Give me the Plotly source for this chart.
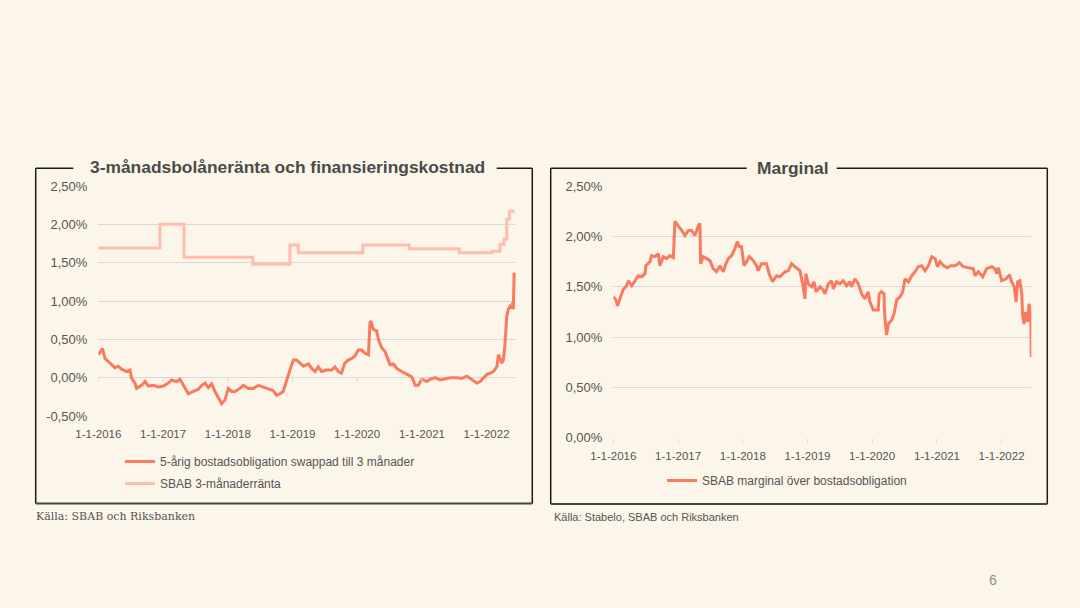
import plotly.graph_objects as go

# ---------------- data ----------------
bond_dates = [
    "2016-01-01", "2016-01-20", "2016-01-25", "2016-02-08", "2016-02-26", "2016-03-16", "2016-04-04",
    "2016-04-22", "2016-05-11", "2016-06-09", "2016-06-28", "2016-07-07", "2016-07-26", "2016-08-04",
    "2016-09-02", "2016-09-21", "2016-10-10", "2016-11-07", "2016-12-05", "2017-01-02", "2017-01-30",
    "2017-02-18", "2017-03-18", "2017-04-06", "2017-04-25", "2017-05-23", "2017-06-21", "2017-07-19",
    "2017-08-07", "2017-08-26", "2017-09-13", "2017-10-02", "2017-10-21", "2017-11-08", "2017-11-27",
    "2017-12-16", "2018-01-04", "2018-01-23", "2018-02-11", "2018-03-11", "2018-03-30", "2018-04-27",
    "2018-05-26", "2018-06-23", "2018-07-21", "2018-08-18", "2018-09-15", "2018-10-04", "2018-10-23",
    "2018-11-10", "2018-11-29", "2018-12-18", "2019-01-06", "2019-01-25", "2019-02-13", "2019-03-04",
    "2019-04-01", "2019-04-20", "2019-05-09", "2019-05-27", "2019-06-15", "2019-07-13", "2019-08-10",
    "2019-08-29", "2019-09-17", "2019-10-05", "2019-10-24", "2019-11-12", "2019-12-01", "2019-12-19",
    "2020-01-08", "2020-01-27", "2020-02-15", "2020-03-05", "2020-03-14", "2020-03-18", "2020-04-02",
    "2020-04-21", "2020-04-30", "2020-05-19", "2020-06-07", "2020-06-26", "2020-07-05", "2020-07-24",
    "2020-08-12", "2020-09-09", "2020-10-07", "2020-11-05", "2020-11-24", "2020-12-12", "2021-01-01",
    "2021-01-29", "2021-02-17", "2021-03-17", "2021-04-14", "2021-05-12", "2021-06-10", "2021-07-17",
    "2021-08-15", "2021-09-12", "2021-10-10", "2021-11-07", "2021-11-26", "2021-12-14", "2022-01-02",
    "2022-01-21", "2022-02-09", "2022-02-28", "2022-03-09", "2022-03-28", "2022-04-06", "2022-04-15",
    "2022-04-25", "2022-05-04", "2022-05-13", "2022-05-23", "2022-05-28", "2022-06-01", "2022-06-06",
]
bond_values = [
    0.30, 0.36, 0.38, 0.25, 0.21, 0.17, 0.13,
    0.15, 0.11, 0.08, 0.10, -0.01, -0.07, -0.14,
    -0.10, -0.05, -0.11, -0.10, -0.12, -0.11, -0.07,
    -0.03, -0.05, -0.02, -0.10, -0.21, -0.18, -0.15,
    -0.10, -0.07, -0.13, -0.08, -0.18, -0.25, -0.34,
    -0.29, -0.14, -0.18, -0.18, -0.14, -0.10, -0.14,
    -0.14, -0.10, -0.12, -0.14, -0.17, -0.23, -0.21,
    -0.18, -0.03, 0.10, 0.23, 0.23, 0.19, 0.15,
    0.18, 0.12, 0.08, 0.14, 0.08, 0.10, 0.10,
    0.14, 0.08, 0.06, 0.19, 0.23, 0.25, 0.28,
    0.36, 0.36, 0.32, 0.30, 0.71, 0.74, 0.63,
    0.61, 0.50, 0.39, 0.34, 0.23, 0.17, 0.18,
    0.12, 0.08, 0.04, 0.01, -0.10, -0.10, -0.02,
    -0.05, -0.02, 0.00, -0.03, -0.02, 0.00, 0.00,
    -0.01, 0.02, -0.03, -0.07, -0.05, 0.00, 0.04,
    0.06, 0.08, 0.14, 0.30, 0.19, 0.23, 0.43,
    0.80, 0.89, 0.93, 0.91, 0.98, 0.89, 1.37,
]

sbab_dates = [
    "2016-01-01", "2016-12-14", "2017-04-29", "2018-05-22", "2018-12-18", "2019-02-03",
    "2020-02-02", "2020-10-21", "2021-07-31", "2022-01-30", "2022-03-18", "2022-04-10",
    "2022-04-25", "2022-05-10", "2022-06-08",
]
sbab_values = [
    1.69, 2.00, 1.57, 1.48, 1.73, 1.63,
    1.73, 1.68, 1.63, 1.65, 1.74, 1.81,
    2.07, 2.17, 2.17,
]

margin_dates = [
    "2016-01-01", "2016-01-16", "2016-01-25", "2016-02-07", "2016-02-25", "2016-03-16", "2016-03-26",
    "2016-04-14", "2016-05-02", "2016-05-21", "2016-06-09", "2016-06-28", "2016-07-03", "2016-07-26",
    "2016-08-04", "2016-08-23", "2016-09-11", "2016-09-20", "2016-10-09", "2016-10-28", "2016-11-16",
    "2016-12-05", "2016-12-14", "2017-01-02", "2017-01-21", "2017-02-09", "2017-02-28", "2017-03-18",
    "2017-04-06", "2017-04-25", "2017-05-04", "2017-05-08", "2017-05-23", "2017-06-11", "2017-06-30",
    "2017-07-18", "2017-08-06", "2017-08-25", "2017-09-13", "2017-09-28", "2017-10-11", "2017-10-30",
    "2017-11-18", "2017-12-01", "2017-12-12", "2017-12-25", "2018-01-08", "2018-01-23", "2018-02-07",
    "2018-03-01", "2018-03-20", "2018-03-29", "2018-04-17", "2018-05-15", "2018-05-30", "2018-06-18",
    "2018-07-11", "2018-07-30", "2018-08-27", "2018-09-15", "2018-10-04", "2018-10-22", "2018-11-20",
    "2018-12-08", "2018-12-18", "2018-12-23", "2019-01-06", "2019-01-25", "2019-02-07", "2019-02-18",
    "2019-03-13", "2019-03-31", "2019-04-10", "2019-04-29", "2019-05-17", "2019-05-27", "2019-06-15",
    "2019-07-03", "2019-07-22", "2019-08-10", "2019-08-29", "2019-09-07", "2019-09-26", "2019-10-15",
    "2019-11-03", "2019-11-22", "2019-12-10", "2019-12-20", "2020-01-08", "2020-01-27", "2020-02-05",
    "2020-02-10", "2020-02-23", "2020-03-08", "2020-03-13", "2020-03-23", "2020-04-02", "2020-04-21",
    "2020-05-04", "2020-05-19", "2020-06-07", "2020-06-22", "2020-07-05", "2020-07-24", "2020-08-12",
    "2020-08-31", "2020-09-18", "2020-10-07", "2020-10-26", "2020-11-14", "2020-12-03", "2020-12-22",
    "2021-01-04", "2021-01-19", "2021-02-07", "2021-03-01", "2021-03-20", "2021-04-14", "2021-05-08",
    "2021-05-30", "2021-06-28", "2021-07-26", "2021-08-04", "2021-08-23", "2021-09-17", "2021-10-09",
    "2021-11-07", "2021-11-25", "2021-12-05", "2021-12-14", "2022-01-02", "2022-01-27", "2022-02-14",
    "2022-02-27", "2022-03-13", "2022-03-24", "2022-04-02", "2022-04-15", "2022-04-25", "2022-04-30",
    "2022-05-08", "2022-05-17", "2022-05-29", "2022-06-05", "2022-06-15", "2022-06-17", "2022-06-18",
]
margin_values = [
    1.40, 1.37, 1.31, 1.38, 1.47, 1.51, 1.56,
    1.51, 1.56, 1.61, 1.60, 1.63, 1.71, 1.75,
    1.81, 1.80, 1.83, 1.71, 1.80, 1.78, 1.81,
    1.79, 2.15, 2.11, 2.06, 2.01, 2.06, 2.06,
    2.01, 2.11, 2.13, 1.73, 1.80, 1.78, 1.76,
    1.68, 1.65, 1.71, 1.65, 1.73, 1.78, 1.81,
    1.88, 1.95, 1.90, 1.90, 1.71, 1.75, 1.80,
    1.76, 1.71, 1.66, 1.73, 1.73, 1.63, 1.55,
    1.61, 1.60, 1.65, 1.66, 1.73, 1.70, 1.66,
    1.50, 1.38, 1.63, 1.53, 1.50, 1.55, 1.45,
    1.50, 1.47, 1.43, 1.53, 1.56, 1.48, 1.55,
    1.53, 1.56, 1.51, 1.55, 1.50, 1.58, 1.53,
    1.43, 1.38, 1.45, 1.35, 1.27, 1.27, 1.27,
    1.43, 1.45, 1.43, 1.20, 1.02, 1.13, 1.17,
    1.23, 1.37, 1.40, 1.45, 1.58, 1.55, 1.61,
    1.65, 1.70, 1.71, 1.66, 1.71, 1.80, 1.78,
    1.70, 1.75, 1.71, 1.69, 1.71, 1.71, 1.74,
    1.70, 1.69, 1.68, 1.61, 1.65, 1.60, 1.68,
    1.70, 1.68, 1.63, 1.69, 1.56, 1.58, 1.62,
    1.55, 1.50, 1.35, 1.55, 1.56, 1.43, 1.22,
    1.13, 1.25, 1.15, 1.33, 1.25, 1.00, 0.80,
]

x_tick_vals = ["2016-01-01", "2017-01-01", "2018-01-01", "2019-01-01",
               "2020-01-01", "2021-01-01", "2022-01-01"]
x_tick_text = ["1-1-2016", "1-1-2017", "1-1-2018", "1-1-2019",
               "1-1-2020", "1-1-2021", "1-1-2022"]
left_y_vals = [-0.5, 0.0, 0.5, 1.0, 1.5, 2.0, 2.5]
left_y_text = ["-0,50%", "0,00%", "0,50%", "1,00%", "1,50%", "2,00%", "2,50%"]
right_y_vals = [0.0, 0.5, 1.0, 1.5, 2.0, 2.5]
right_y_text = ["0,00%", "0,50%", "1,00%", "1,50%", "2,00%", "2,50%"]

name_bond = "5-årig bostadsobligation swappad till 3 månader"
name_sbab = "SBAB 3-månaderränta"
name_margin = "SBAB marginal över bostadsobligation"

title_left = "3-månadsbolåneränta och finansieringskostnad"
title_right = "Marginal"
source_left = "Källa: SBAB och Riksbanken"
source_right = "Källa: Stabelo, SBAB och Riksbanken"
page_no = "6"

# ---------------- style ----------------
W, H = 1080, 608
BG = "#FCF6EA"
DARK = "#FA7A60"
LIGHT = "#FFBDAE"
GRID = "#D9D9D9"
TXT = "#555555"
FONT = "Liberation Sans"


def px(x):
    return x / W


def py(y):
    return 1 - y / H


fig = go.Figure()
fig.add_trace(go.Scatter(x=bond_dates, y=bond_values, name=name_bond, mode="lines",
                         line=dict(color=DARK, width=3), xaxis="x", yaxis="y", legend="legend",
                         legendgroup="g1"))
fig.add_trace(go.Scatter(x=sbab_dates, y=sbab_values, name=name_sbab, mode="lines",
                         line=dict(color=LIGHT, width=3, shape="hv"), xaxis="x", yaxis="y",
                         legend="legend", legendgroup="g2"))
fig.add_trace(go.Scatter(x=margin_dates, y=margin_values, name=name_margin, mode="lines",
                         line=dict(color=DARK, width=3), xaxis="x2", yaxis="y2", legend="legend2"))

x_range = ["2016-01-01", "2022-06-18"]
xaxis_common = dict(range=x_range, tickvals=x_tick_vals, ticktext=x_tick_text, showgrid=False,
                    zeroline=False, showline=False, automargin=False,
                    tickfont=dict(family=FONT, size=11.5, color=TXT))
yaxis_common = dict(showgrid=True, gridcolor=GRID, gridwidth=1, zeroline=False, showline=False,
                    automargin=False, ticks="", tickfont=dict(family=FONT, size=13, color=TXT),
                    ticklabelstandoff=10)

shapes = []
# x ticks at the zero line for the left chart
for tv in x_tick_vals:
    shapes.append(dict(type="line", xref="x", yref="y", x0=tv, x1=tv, y0=0, y1=-0.055,
                       line=dict(color=GRID, width=1)))

# boxes
BOX = "#1a1a1a"


def box(x0, x1, y0, y1, gap0, gap1):
    segs = [
        (x0, y0, gap0, y0), (gap1, y0, x1, y0),
        (x0, y0, x0, y1), (x1, y0, x1, y1),
    ]
    out = []
    for a, b, c, d in segs:
        out.append(dict(type="line", xref="paper", yref="paper", x0=px(a), y0=py(b), x1=px(c),
                        y1=py(d), line=dict(color=BOX, width=1.5)))
    out.append(dict(type="line", xref="paper", yref="paper", x0=px(x0), y0=py(y1), x1=px(x1),
                    y1=py(y1), line=dict(color="#444444", width=2)))
    return out


shapes += box(35.7, 532.3, 168.3, 503.5, 73.3, 496.7)
shapes += box(550.7, 1047.3, 168.3, 504.0, 746.7, 836.7)

annotations = [
    dict(text=title_left, x=px(287), y=py(166.7), xref="paper", yref="paper", showarrow=False,
         xanchor="center", yanchor="middle",
         font=dict(family=FONT, size=17.4, color="#4A4A4A", weight="bold")),
    dict(text=title_right, x=px(792.8), y=py(168), xref="paper", yref="paper", showarrow=False,
         xanchor="center", yanchor="middle",
         font=dict(family=FONT, size=17.4, color="#4A4A4A", weight="bold")),
    dict(text=source_left, x=px(34), y=py(516.5), xref="paper", yref="paper", showarrow=False,
         xanchor="left", yanchor="middle", font=dict(family="DejaVu Serif", size=11, color=TXT)),
    dict(text=source_right, x=px(551.5), y=py(517), xref="paper", yref="paper", showarrow=False,
         xanchor="left", yanchor="middle", font=dict(family=FONT, size=11, color=TXT)),
    dict(text=page_no, x=px(993), y=py(580), xref="paper", yref="paper", showarrow=False,
         xanchor="center", yanchor="middle", font=dict(family=FONT, size=14, color="#8C8C8C")),
]

fig.update_layout(
    template="none",
    autosize=False,
    width=W, height=H, margin=dict(l=0, r=0, t=0, b=0, pad=0, autoexpand=False),
    paper_bgcolor=BG, plot_bgcolor=BG,
    font=dict(family=FONT, color=TXT),
    showlegend=True,
    xaxis=dict(domain=[px(98.3), px(516.3)], anchor="y", **xaxis_common, ticks="",
               ticklabelstandoff=9),
    yaxis=dict(domain=[py(416), py(186)], anchor="x", range=[-0.5, 2.5], tickvals=left_y_vals,
               ticktext=left_y_text, **yaxis_common),
    xaxis2=dict(domain=[px(613.3), px(1031.3)], anchor="y2", **xaxis_common, ticks="outside",
                ticklen=4, tickcolor=GRID, ticklabelstandoff=3),
    yaxis2=dict(domain=[py(437.7), py(186.2)], anchor="x2", range=[0, 2.5], tickvals=right_y_vals,
                ticktext=right_y_text, **yaxis_common),
    legend=dict(x=px(120), y=py(447), xanchor="left", yanchor="top", bgcolor="rgba(0,0,0,0)",
                font=dict(family=FONT, size=12, color=TXT), orientation="v",
                traceorder="grouped", tracegroupgap=3),
    legend2=dict(x=px(662), y=py(466), xanchor="left", yanchor="top", bgcolor="rgba(0,0,0,0)",
                 font=dict(family=FONT, size=12, color=TXT)),
    shapes=shapes,
    annotations=annotations,
)

fig.write_html(
    "out.html",
    config={"responsive": False, "displayModeBar": False},
    post_script="document.body.style.margin='0';document.body.style.background='%s';" % BG,
)
